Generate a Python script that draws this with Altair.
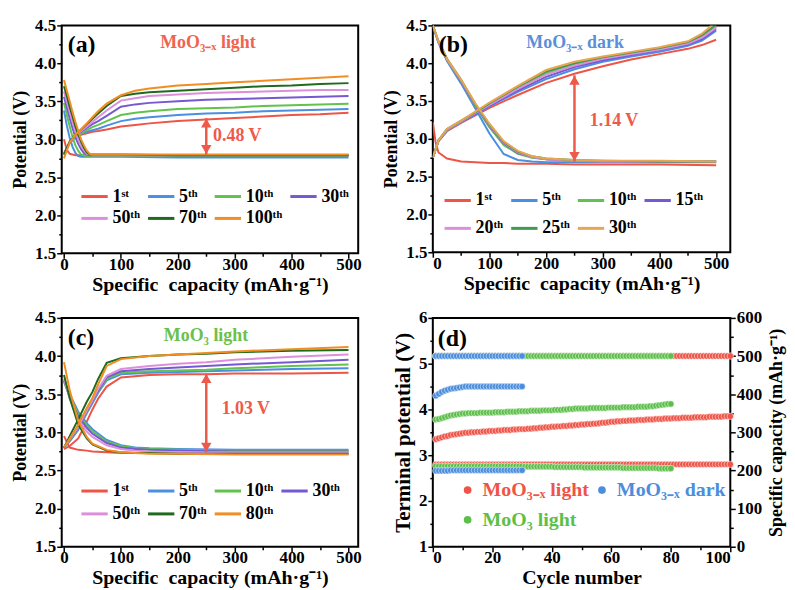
import altair as alt
import pandas as pd

FONT = "Liberation Serif"

# ---------------- colours ----------------
C_RED = "#ee5546"
C_BLUE = "#4a8fe0"
C_GREEN = "#62c24e"
C_PURPLE = "#7559d2"
C_PINK = "#dc8fdb"
C_DKGREEN = "#1f6a1f"
C_ORANGE = "#f08e24"
C_MIDGREEN = "#3f9a52"
C_TAN = "#e9a652"
ARROW_RED = "#ee5a4a"

# ---------------- panel (a): MoO3-x light ----------------
A_LABELS = ["1ˢᵗ", "5ᵗʰ", "10ᵗʰ", "30ᵗʰ", "50ᵗʰ", "70ᵗʰ", "100ᵗʰ"]
A_COLORS = [C_RED, C_BLUE, C_GREEN, C_PURPLE, C_PINK, C_DKGREEN, C_ORANGE]
A_CH_X = [0, 10, 20, 30, 40, 50, 60, 75, 100, 125, 150, 200, 250, 300, 350, 400, 450, 500]
A_CH = [
    [2.82, 2.95, 3.03, 3.06, 3.08, 3.10, 3.11, 3.13, 3.17, 3.19, 3.21, 3.24, 3.26, 3.28, 3.30, 3.32, 3.33, 3.35],
    [2.80, 2.95, 3.04, 3.07, 3.10, 3.12, 3.14, 3.18, 3.24, 3.27, 3.29, 3.32, 3.34, 3.35, 3.37, 3.38, 3.39, 3.40],
    [2.80, 2.95, 3.04, 3.08, 3.12, 3.16, 3.19, 3.24, 3.32, 3.35, 3.37, 3.40, 3.41, 3.42, 3.44, 3.45, 3.46, 3.47],
    [2.80, 2.96, 3.05, 3.10, 3.15, 3.20, 3.24, 3.31, 3.43, 3.46, 3.48, 3.50, 3.52, 3.53, 3.54, 3.55, 3.56, 3.57],
    [2.80, 2.96, 3.05, 3.11, 3.17, 3.23, 3.29, 3.38, 3.51, 3.54, 3.57, 3.59, 3.61, 3.62, 3.63, 3.64, 3.65, 3.65],
    [2.80, 2.97, 3.06, 3.13, 3.20, 3.27, 3.34, 3.44, 3.57, 3.60, 3.62, 3.64, 3.66, 3.68, 3.70, 3.71, 3.73, 3.74],
    [2.75, 2.96, 3.06, 3.13, 3.21, 3.29, 3.37, 3.47, 3.58, 3.64, 3.67, 3.71, 3.73, 3.75, 3.77, 3.79, 3.81, 3.83],
]
A_DC_X = [0, 5, 10, 15, 20, 25, 30, 35, 40, 45, 50, 100, 200, 300, 400, 500]
A_DC = [
    [3.00, 2.86, 2.81, 2.80, 2.79, 2.79, 2.79, 2.79, 2.79, 2.79, 2.79, 2.79, 2.79, 2.79, 2.79, 2.79],
    [3.38, 3.18, 3.02, 2.90, 2.82, 2.78, 2.77, 2.77, 2.77, 2.77, 2.77, 2.77, 2.76, 2.76, 2.76, 2.76],
    [3.48, 3.32, 3.17, 3.03, 2.92, 2.85, 2.80, 2.79, 2.78, 2.78, 2.78, 2.78, 2.78, 2.78, 2.78, 2.78],
    [3.56, 3.42, 3.28, 3.15, 3.03, 2.94, 2.87, 2.82, 2.80, 2.79, 2.79, 2.79, 2.79, 2.79, 2.79, 2.79],
    [3.63, 3.50, 3.36, 3.23, 3.10, 3.00, 2.92, 2.86, 2.81, 2.80, 2.79, 2.79, 2.79, 2.79, 2.79, 2.79],
    [3.70, 3.57, 3.43, 3.30, 3.17, 3.06, 2.97, 2.89, 2.83, 2.80, 2.80, 2.80, 2.79, 2.79, 2.79, 2.79],
    [3.78, 3.64, 3.50, 3.36, 3.23, 3.11, 3.00, 2.92, 2.85, 2.81, 2.80, 2.80, 2.80, 2.80, 2.80, 2.80],
]
A_ARROW = [250, 2.80, 3.28]          # capacity, low, high
A_ARROW_TEXT = ["0.48 V", 262, 3.04]

# ---------------- panel (b): MoO3-x dark ----------------
B_LABELS = ["1ˢᵗ", "5ᵗʰ", "10ᵗʰ", "15ᵗʰ", "20ᵗʰ", "25ᵗʰ", "30ᵗʰ"]
B_COLORS = [C_RED, C_BLUE, C_GREEN, C_PURPLE, C_PINK, C_MIDGREEN, C_TAN]
B_CH_X = [0, 10, 25, 50, 75, 100, 150, 200, 250, 300, 350, 400, 450, 475, 500]
B_CH = [
    [2.75, 2.97, 3.10, 3.21, 3.31, 3.41, 3.58, 3.74, 3.86, 3.96, 4.05, 4.12, 4.19, 4.24, 4.31],
    [2.75, 2.97, 3.11, 3.22, 3.32, 3.43, 3.62, 3.79, 3.92, 4.02, 4.09, 4.15, 4.23, 4.30, 4.43],
    [2.75, 2.98, 3.12, 3.23, 3.34, 3.46, 3.67, 3.87, 3.99, 4.07, 4.13, 4.19, 4.27, 4.35, 4.48],
    [2.75, 2.98, 3.12, 3.23, 3.33, 3.44, 3.64, 3.82, 3.95, 4.04, 4.11, 4.17, 4.25, 4.32, 4.45],
    [2.75, 2.98, 3.12, 3.23, 3.34, 3.45, 3.66, 3.85, 3.97, 4.06, 4.12, 4.18, 4.26, 4.34, 4.47],
    [2.75, 2.98, 3.13, 3.24, 3.35, 3.47, 3.69, 3.89, 4.00, 4.08, 4.14, 4.20, 4.28, 4.37, 4.51],
    [2.75, 2.98, 3.13, 3.24, 3.36, 3.48, 3.70, 3.91, 4.02, 4.09, 4.15, 4.21, 4.29, 4.39, 4.55],
]
B_DC_X = [0, 5, 10, 25, 50, 75, 100, 125, 150, 175, 200, 250, 300, 400, 500]
B_DC = [
    [3.22, 2.95, 2.82, 2.74, 2.70, 2.69, 2.68, 2.68, 2.67, 2.67, 2.67, 2.66, 2.66, 2.66, 2.65],
    [4.50, 4.38, 4.27, 4.03, 3.73, 3.40, 3.07, 2.80, 2.72, 2.70, 2.69, 2.69, 2.69, 2.69, 2.69],
    [4.50, 4.39, 4.28, 4.05, 3.76, 3.43, 3.15, 2.92, 2.80, 2.75, 2.73, 2.71, 2.70, 2.70, 2.70],
    [4.50, 4.39, 4.28, 4.05, 3.76, 3.44, 3.17, 2.94, 2.81, 2.76, 2.73, 2.71, 2.70, 2.70, 2.70],
    [4.50, 4.39, 4.28, 4.05, 3.77, 3.45, 3.18, 2.95, 2.82, 2.76, 2.73, 2.71, 2.70, 2.70, 2.70],
    [4.50, 4.40, 4.29, 4.06, 3.78, 3.46, 3.19, 2.96, 2.83, 2.77, 2.74, 2.72, 2.71, 2.70, 2.70],
    [4.50, 4.40, 4.29, 4.06, 3.78, 3.47, 3.20, 2.97, 2.84, 2.77, 2.74, 2.72, 2.71, 2.71, 2.70],
]
B_ARROW = [250, 2.70, 3.84]
B_ARROW_TEXT = ["1.14 V", 277, 3.24]

# ---------------- panel (c): MoO3 light ----------------
C_LABELS = ["1ˢᵗ", "5ᵗʰ", "10ᵗʰ", "30ᵗʰ", "50ᵗʰ", "70ᵗʰ", "80ᵗʰ"]
C_COLORS = [C_RED, C_BLUE, C_GREEN, C_PURPLE, C_PINK, C_DKGREEN, C_ORANGE]
C_CH_X = [0, 10, 25, 40, 50, 60, 75, 100, 150, 200, 250, 300, 400, 500]
C_CH = [
    [2.78, 2.82, 2.92, 3.14, 3.30, 3.44, 3.60, 3.72, 3.75, 3.76, 3.76, 3.77, 3.77, 3.78],
    [2.80, 2.88, 3.03, 3.25, 3.38, 3.52, 3.68, 3.76, 3.78, 3.79, 3.80, 3.81, 3.83, 3.84],
    [2.80, 2.89, 3.05, 3.27, 3.40, 3.54, 3.70, 3.78, 3.80, 3.81, 3.82, 3.84, 3.87, 3.89],
    [2.80, 2.90, 3.06, 3.28, 3.41, 3.55, 3.72, 3.80, 3.83, 3.85, 3.87, 3.89, 3.92, 3.95],
    [2.80, 2.91, 3.07, 3.29, 3.42, 3.57, 3.74, 3.83, 3.87, 3.90, 3.92, 3.95, 3.99, 4.02],
    [2.80, 2.95, 3.17, 3.40, 3.53, 3.70, 3.91, 3.97, 4.00, 4.02, 4.03, 4.05, 4.07, 4.08],
    [2.80, 2.92, 3.10, 3.32, 3.45, 3.63, 3.87, 3.96, 4.00, 4.02, 4.04, 4.06, 4.09, 4.12],
]
C_DC_X = [0, 10, 25, 40, 50, 75, 100, 125, 150, 200, 300, 400, 500]
C_DC = [
    [2.95, 2.80, 2.77, 2.76, 2.75, 2.74, 2.73, 2.73, 2.73, 2.72, 2.72, 2.72, 2.72],
    [3.68, 3.50, 3.27, 3.12, 3.04, 2.90, 2.83, 2.80, 2.79, 2.78, 2.77, 2.77, 2.77],
    [3.66, 3.47, 3.24, 3.09, 3.01, 2.88, 2.82, 2.79, 2.78, 2.77, 2.76, 2.76, 2.76],
    [3.68, 3.46, 3.21, 3.06, 2.98, 2.86, 2.80, 2.78, 2.77, 2.76, 2.75, 2.75, 2.75],
    [3.70, 3.44, 3.17, 3.01, 2.94, 2.83, 2.78, 2.76, 2.75, 2.74, 2.74, 2.74, 2.74],
    [3.75, 3.45, 3.10, 2.92, 2.84, 2.76, 2.74, 2.73, 2.73, 2.72, 2.72, 2.72, 2.72],
    [3.92, 3.55, 3.15, 2.94, 2.85, 2.77, 2.74, 2.73, 2.72, 2.72, 2.71, 2.71, 2.71],
]
C_ARROW = [250, 2.74, 3.77]
C_ARROW_TEXT = ["1.03 V", 277, 3.30]

# ---------------- panel (d): cycling ----------------
D_SERIES = ["MoO₃₋ₓ light", "MoO₃₋ₓ dark", "MoO₃ light"]
D_COLORS = ["#ef5448", "#4b8ede", "#5cbf4a"]

RED_CYCLES = list(range(1, 101))
RED_CHG = [
    3.35, 3.37, 3.39, 3.41, 3.42, 3.44, 3.45, 3.46, 3.47, 3.48,
    3.49, 3.49, 3.50, 3.50, 3.51, 3.51, 3.52, 3.52, 3.53, 3.53,
    3.53, 3.54, 3.54, 3.55, 3.55, 3.55, 3.56, 3.56, 3.57, 3.57,
    3.57, 3.58, 3.58, 3.59, 3.59, 3.60, 3.60, 3.61, 3.61, 3.62,
    3.62, 3.63, 3.63, 3.64, 3.64, 3.65, 3.65, 3.66, 3.66, 3.67,
    3.67, 3.68, 3.68, 3.69, 3.69, 3.70, 3.71, 3.71, 3.72, 3.73,
    3.73, 3.74, 3.74, 3.75, 3.75, 3.76, 3.76, 3.76, 3.77, 3.77,
    3.77, 3.78, 3.78, 3.78, 3.79, 3.79, 3.79, 3.80, 3.80, 3.80,
    3.81, 3.81, 3.81, 3.82, 3.82, 3.82, 3.82, 3.83, 3.83, 3.83,
    3.83, 3.83, 3.84, 3.84, 3.84, 3.84, 3.84, 3.85, 3.85, 3.85,
]
RED_DIS = [
    2.80, 2.80, 2.80, 2.80, 2.80, 2.80, 2.80, 2.80, 2.80, 2.80,
    2.80, 2.80, 2.80, 2.80, 2.80, 2.80, 2.80, 2.80, 2.80, 2.80,
    2.80, 2.80, 2.80, 2.80, 2.80, 2.80, 2.80, 2.80, 2.80, 2.80,
    2.80, 2.80, 2.80, 2.80, 2.80, 2.80, 2.80, 2.80, 2.80, 2.80,
    2.80, 2.80, 2.80, 2.80, 2.80, 2.80, 2.80, 2.80, 2.80, 2.80,
    2.80, 2.80, 2.80, 2.80, 2.80, 2.80, 2.80, 2.80, 2.80, 2.80,
    2.80, 2.80, 2.80, 2.80, 2.80, 2.80, 2.80, 2.80, 2.80, 2.80,
    2.80, 2.80, 2.80, 2.80, 2.80, 2.80, 2.80, 2.80, 2.80, 2.80,
    2.80, 2.80, 2.80, 2.80, 2.80, 2.80, 2.80, 2.80, 2.80, 2.80,
    2.80, 2.80, 2.80, 2.80, 2.80, 2.80, 2.80, 2.80, 2.80, 2.80,
]
RED_CAP = [
    500, 500, 500, 500, 500, 500, 500, 500, 500, 500,
    500, 500, 500, 500, 500, 500, 500, 500, 500, 500,
    500, 500, 500, 500, 500, 500, 500, 500, 500, 500,
    500, 500, 500, 500, 500, 500, 500, 500, 500, 500,
    500, 500, 500, 500, 500, 500, 500, 500, 500, 500,
    500, 500, 500, 500, 500, 500, 500, 500, 500, 500,
    500, 500, 500, 500, 500, 500, 500, 500, 500, 500,
    500, 500, 500, 500, 500, 500, 500, 500, 500, 500,
    500, 500, 500, 500, 500, 500, 500, 500, 500, 500,
    500, 500, 500, 500, 500, 500, 500, 500, 500, 500,
]

GRN_CYCLES = list(range(1, 81))
GRN_CHG = [
    3.78, 3.79, 3.81, 3.83, 3.85, 3.87, 3.88, 3.89, 3.90, 3.91,
    3.91, 3.92, 3.92, 3.92, 3.92, 3.93, 3.93, 3.93, 3.93, 3.93,
    3.94, 3.94, 3.94, 3.94, 3.95, 3.95, 3.95, 3.95, 3.96, 3.96,
    3.96, 3.96, 3.97, 3.97, 3.97, 3.97, 3.98, 3.98, 3.98, 3.98,
    3.99, 3.99, 3.99, 4.00, 4.00, 4.01, 4.01, 4.02, 4.02, 4.02,
    4.02, 4.02, 4.03, 4.03, 4.03, 4.03, 4.03, 4.03, 4.04, 4.04,
    4.04, 4.04, 4.04, 4.05, 4.05, 4.05, 4.05, 4.05, 4.06, 4.06,
    4.06, 4.06, 4.07, 4.07, 4.08, 4.09, 4.10, 4.11, 4.12, 4.12,
]
GRN_DIS = [
    2.76, 2.76, 2.76, 2.76, 2.76, 2.76, 2.76, 2.76, 2.76, 2.76,
    2.76, 2.76, 2.76, 2.76, 2.76, 2.76, 2.76, 2.76, 2.76, 2.76,
    2.76, 2.76, 2.76, 2.76, 2.76, 2.76, 2.76, 2.76, 2.76, 2.76,
    2.75, 2.75, 2.75, 2.75, 2.75, 2.75, 2.75, 2.75, 2.75, 2.75,
    2.74, 2.74, 2.74, 2.74, 2.74, 2.74, 2.74, 2.74, 2.74, 2.74,
    2.73, 2.73, 2.73, 2.73, 2.73, 2.73, 2.73, 2.73, 2.73, 2.73,
    2.73, 2.73, 2.73, 2.72, 2.72, 2.72, 2.72, 2.72, 2.72, 2.72,
    2.72, 2.72, 2.72, 2.72, 2.72, 2.71, 2.71, 2.71, 2.71, 2.71,
]
GRN_CAP = [
    500, 500, 500, 500, 500, 500, 500, 500, 500, 500,
    500, 500, 500, 500, 500, 500, 500, 500, 500, 500,
    500, 500, 500, 500, 500, 500, 500, 500, 500, 500,
    500, 500, 500, 500, 500, 500, 500, 500, 500, 500,
    500, 500, 500, 500, 500, 500, 500, 500, 500, 500,
    500, 500, 500, 500, 500, 500, 500, 500, 500, 500,
    500, 500, 500, 500, 500, 500, 500, 500, 500, 500,
    500, 500, 500, 500, 500, 500, 500, 500, 500, 500,
]

BLU_CYCLES = list(range(1, 31))
BLU_CHG = [
    4.30, 4.34, 4.38, 4.41, 4.43, 4.45, 4.46, 4.47, 4.48, 4.49,
    4.50, 4.50, 4.50, 4.50, 4.50, 4.50, 4.50, 4.50, 4.50, 4.50,
    4.50, 4.50, 4.50, 4.50, 4.50, 4.50, 4.50, 4.50, 4.50, 4.50,
]
BLU_DIS = [
    2.66, 2.66, 2.66, 2.66, 2.66, 2.67, 2.67, 2.67, 2.67, 2.67,
    2.67, 2.67, 2.67, 2.67, 2.67, 2.67, 2.67, 2.67, 2.67, 2.67,
    2.67, 2.67, 2.67, 2.67, 2.67, 2.67, 2.67, 2.67, 2.67, 2.67,
]
BLU_CAP = [
    500, 500, 500, 500, 500, 500, 500, 500, 500, 500,
    500, 500, 500, 500, 500, 500, 500, 500, 500, 500,
    500, 500, 500, 500, 500, 500, 500, 500, 500, 500,
]

# ---------------- axis tick lists ----------------
CAP_TICKS = [0, 50, 100, 150, 200, 250, 300, 350, 400, 450, 500]
POT_TICKS = [1.5, 1.75, 2.0, 2.25, 2.5, 2.75, 3.0, 3.25, 3.5, 3.75, 4.0, 4.25, 4.5]
CYC_TICKS = [0, 10, 20, 30, 40, 50, 60, 70, 80, 90, 100]
TP_TICKS = [1, 1.5, 2, 2.5, 3, 3.5, 4, 4.5, 5, 5.5, 6]
SC_TICKS = [0, 50, 100, 150, 200, 250, 300, 350, 400, 450, 500, 550, 600]

CAP_TITLE = "Specific\u00a0 capacity (mAh·g⁻¹)"


def minor_size(test):
    return {"condition": {"test": test, "value": 3}, "value": 5}


def text_layer(txt, xpx, ypx, size, color, align="left"):
    return alt.Chart(pd.DataFrame({"t": [txt]})).mark_text(
        align=align, baseline="middle", font=FONT, fontSize=size, fontWeight="bold", color=color
    ).encode(x=alt.value(xpx), y=alt.value(ypx), text="t:N")


def curve_panel(labels, colors, ch_x, ch_vals, dc_x, dc_vals, xdom, w, h,
                letter, name, name_color, name_x, arrow, arrow_text,
                leg_x, leg_y, leg_rowpad, leg_colpad):
    rows = []
    for k, lab in enumerate(labels):
        for j, (xv, yv) in enumerate(zip(dc_x, dc_vals[k])):
            rows.append(dict(cycle=lab, curve=f"{k}d", cap=xv, pot=yv, idx=j))
        for j, (xv, yv) in enumerate(zip(ch_x, ch_vals[k])):
            rows.append(dict(cycle=lab, curve=f"{k}c", cap=xv, pot=yv, idx=j))
    df = pd.DataFrame(rows)

    X = alt.X("cap:Q", scale=alt.Scale(domain=xdom, nice=False, zero=False),
              axis=alt.Axis(title=CAP_TITLE, values=CAP_TICKS,
                            labelExpr="datum.value % 100 == 0 ? datum.label : ''",
                            tickSize=minor_size("datum.value % 100 != 0"),
                            labelPadding=-2, titlePadding=2, titleFontSize=20))
    Y = alt.Y("pot:Q", scale=alt.Scale(domain=[1.5, 4.5], nice=False, zero=False),
              axis=alt.Axis(title="Potential (V)", values=POT_TICKS, format=".1f",
                            labelExpr="(datum.value * 4) % 2 == 0 ? datum.label : ''",
                            tickSize=minor_size("(datum.value * 4) % 2 != 0"),
                            titlePadding=5))

    lines = alt.Chart(df).mark_line(strokeWidth=2, clip=True).encode(
        x=X, y=Y,
        color=alt.Color("cycle:N", scale=alt.Scale(domain=labels, range=colors),
                        legend=alt.Legend(title=None, orient="none", legendX=leg_x, legendY=leg_y,
                                          direction="horizontal", columns=4,
                                          symbolType="stroke", symbolStrokeWidth=3, symbolSize=700,
                                          labelFont=FONT, labelFontSize=18, labelFontWeight="bold",
                                          labelColor="black", gridAlign="none",
                                          columnPadding=leg_colpad, rowPadding=leg_rowpad,
                                          labelOffset=3, padding=0)),
        detail="curve:N",
        order="idx:Q",
    )
    adf = pd.DataFrame({"cap": [arrow[0]], "pot": [arrow[1]], "pot2": [arrow[2]]})
    rule = alt.Chart(adf).mark_rule(color=ARROW_RED, strokeWidth=2.5).encode(x=X, y=Y, y2="pot2:Q")
    head_up = alt.Chart(pd.DataFrame({"cap": [arrow[0]], "pot": [arrow[2]]})).mark_point(
        shape="triangle-up", filled=True, size=110, opacity=1, color=ARROW_RED, yOffset=5
    ).encode(x=X, y=Y)
    head_dn = alt.Chart(pd.DataFrame({"cap": [arrow[0]], "pot": [arrow[1]]})).mark_point(
        shape="triangle-down", filled=True, size=110, opacity=1, color=ARROW_RED, yOffset=-5
    ).encode(x=X, y=Y)
    atext = alt.Chart(pd.DataFrame({"cap": [arrow_text[1]], "pot": [arrow_text[2]], "t": [arrow_text[0]]})).mark_text(
        align="left", baseline="middle", font=FONT, fontSize=18, fontWeight="bold", color=ARROW_RED
    ).encode(x=X, y=Y, text="t:N")

    return alt.layer(
        lines, rule, head_up, head_dn, atext,
        text_layer(letter, 6, 20, 24, "black"),
        text_layer(name, name_x, 18, 18, name_color, align="center"),
    ).properties(width=w, height=h)


panel_a = curve_panel(A_LABELS, A_COLORS, A_CH_X, A_CH, A_DC_X, A_DC, [-4, 517], 298, 229,
                      "(a)", "MoO₃₋ₓ light", "#ef6450", 147, A_ARROW, A_ARROW_TEXT,
                      18, 157, -2, 1)
panel_b = curve_panel(B_LABELS, B_COLORS, B_CH_X, B_CH, B_DC_X, B_DC, [0, 525], 299, 228,
                      "(b)", "MoO₃₋ₓ dark", "#5a8fda", 143, B_ARROW, B_ARROW_TEXT,
                      10, 161, 4, 1)
panel_c = curve_panel(C_LABELS, C_COLORS, C_CH_X, C_CH, C_DC_X, C_DC, [-4, 517], 298, 230,
                      "(c)", "MoO₃ light", "#6cc04c", 145, C_ARROW, C_ARROW_TEXT,
                      18, 159, -1, 1)

# ---- panel d ----
pot_rows, cap_rows = [], []
for ser, cyc, chg, dis, cap in [
    (D_SERIES[0], RED_CYCLES, RED_CHG, RED_DIS, RED_CAP),
    (D_SERIES[2], GRN_CYCLES, GRN_CHG, GRN_DIS, GRN_CAP),
    (D_SERIES[1], BLU_CYCLES, BLU_CHG, BLU_DIS, BLU_CAP),
]:
    for c, v in zip(cyc, chg):
        pot_rows.append(dict(series=ser, cycle=c, tp=v))
    for c, v in zip(cyc, dis):
        pot_rows.append(dict(series=ser, cycle=c, tp=v))
    for c, v in zip(cyc, cap):
        cap_rows.append(dict(series=ser, cycle=c, sc=v))
pot_df = pd.DataFrame(pot_rows)
cap_df = pd.DataFrame(cap_rows)

XD = alt.X("cycle:Q", scale=alt.Scale(domain=[0, 100], nice=False, zero=False),
           axis=alt.Axis(title="Cycle number", values=CYC_TICKS,
                         labelExpr="datum.value % 20 == 0 ? datum.label : ''",
                         tickSize=minor_size("datum.value % 20 != 0"),
                         labelPadding=-2, titlePadding=2, titleFontSize=20))
label_color_expr = ("datum.value == '" + D_SERIES[1] + "' ? '" + D_COLORS[1] + "' : (datum.value == '"
                    + D_SERIES[2] + "' ? '" + D_COLORS[2] + "' : '" + D_COLORS[0] + "')")
COLOR_D = alt.Color("series:N", scale=alt.Scale(domain=D_SERIES, range=D_COLORS),
                    legend=alt.Legend(title=None, orient="none", legendX=25, legendY=163,
                                      direction="horizontal", columns=2, symbolType="circle",
                                      symbolSize=60, symbolStrokeWidth=0, labelFont=FONT,
                                      labelFontSize=20, labelFontWeight="bold",
                                      labelColor={"expr": label_color_expr}, gridAlign="each",
                                      columnPadding=2, rowPadding=10, labelOffset=5, padding=0))

cap_layer = alt.Chart(cap_df).mark_circle(size=42, opacity=1, stroke="white", strokeWidth=0.5).encode(
    x=XD,
    y=alt.Y("sc:Q", scale=alt.Scale(domain=[0, 600], nice=False, zero=False),
            axis=alt.Axis(orient="right", title="Specific capacity (mAh·g⁻¹)", values=SC_TICKS,
                          labelExpr="datum.value % 100 == 0 ? datum.label : ''",
                          tickSize=minor_size("datum.value % 100 != 0"),
                          titleAngle=270, titleBaseline="top", titlePadding=6)),
    color=COLOR_D,
)
pot_layer = alt.Chart(pot_df).mark_circle(size=42, opacity=1, stroke="white", strokeWidth=0.5).encode(
    x=XD,
    y=alt.Y("tp:Q", scale=alt.Scale(domain=[1, 6], nice=False, zero=False),
            axis=alt.Axis(orient="left", title="Terminal potential (V)", values=TP_TICKS, format=".0f",
                          labelExpr="datum.value % 1 == 0 ? datum.label : ''",
                          tickSize=minor_size("datum.value % 1 != 0"), titlePadding=5,
                          titleFontSize=21)),
    color=COLOR_D,
)
panel_d = alt.layer(pot_layer, cap_layer, text_layer("(d)", 5, 21, 24, "black")).resolve_scale(
    y="independent").properties(width=299, height=230)

chart = alt.concat(
    panel_a, panel_b, panel_c, panel_d,
    columns=2, spacing={"row": 65, "column": 75}, bounds="flush",
).resolve_scale(
    color="independent"
).resolve_legend(
    color="independent"
).properties(
    padding={"left": 2, "top": 6, "right": 0, "bottom": 2}, background="white"
).configure_view(
    stroke="black", strokeWidth=2
).configure_axis(
    labelFont=FONT, titleFont=FONT, labelFontSize=17, titleFontSize=18,
    labelFontWeight="bold", titleFontWeight="bold", labelColor="black", titleColor="black",
    tickColor="black", tickWidth=1.5, domain=False, grid=False, labelPadding=1,
)

chart.save("out.html", embed_options={"renderer": "svg", "actions": False})
